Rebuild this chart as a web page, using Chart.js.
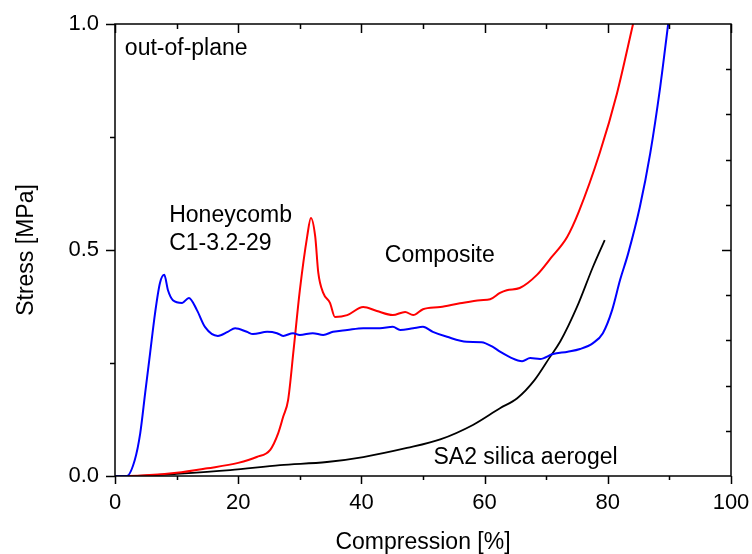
<!DOCTYPE html>
<html>
<head>
<meta charset="utf-8">
<script src="https://cdn.jsdelivr.net/npm/chart.js@4"></script>
<style>
  body { margin: 0; background: #fff; }
  #wrap { width: 752px; height: 554px; }
</style>
</head>
<body>
<div id="wrap"><canvas id="stress" width="752" height="554"></canvas></div>
<script>
// Honeycomb C1-3.2-29 (blue)
var honeyX = [0, 1.9, 3.2, 4.1, 4.9, 5.7, 6.5, 7.3, 8.0, 8.6, 9.4, 10.9, 12.0, 13.3, 14.6, 16.7, 18.3, 19.5, 21.4, 22.4, 24.7, 26.3, 27.3, 28.9, 30, 32.1, 33.8, 35.4, 37.7, 40.3, 43, 45.1, 46.3, 48.4, 50, 51.6, 53.9, 57.1, 59.5, 61.4, 62.5, 64.1, 66.1, 67.4, 69, 71.1, 73.5, 75.5, 77.6, 79.2, 80.7, 82, 83.3, 85.2, 86.9, 88.5, 89.8];
var honeyY = [0, 0, 0.035, 0.095, 0.184, 0.272, 0.36, 0.427, 0.445, 0.411, 0.389, 0.383, 0.394, 0.367, 0.33, 0.31, 0.319, 0.327, 0.319, 0.314, 0.319, 0.316, 0.31, 0.316, 0.312, 0.316, 0.312, 0.319, 0.323, 0.327, 0.327, 0.33, 0.323, 0.327, 0.33, 0.319, 0.308, 0.297, 0.296, 0.285, 0.275, 0.263, 0.254, 0.261, 0.259, 0.27, 0.275, 0.281, 0.294, 0.316, 0.367, 0.434, 0.492, 0.595, 0.715, 0.86, 1.0];

// Composite (red)
var compX = [0, 2.1, 10, 15, 20, 23, 25.2, 26.5, 27.3, 28.1, 29, 30, 31.2, 31.8, 32.5, 33, 33.8, 34.9, 35.7, 37.7, 40.3, 42.5, 45.1, 47.1, 48.4, 50, 52.8, 56, 59.3, 60.9, 62.5, 63.6, 65.7, 68.5, 70.8, 73.4, 75.3, 78.7, 81.5, 84.1];
var compY = [0, 0, 0.007, 0.017, 0.029, 0.042, 0.058, 0.095, 0.131, 0.168, 0.28, 0.41, 0.53, 0.571, 0.53, 0.45, 0.405, 0.383, 0.352, 0.356, 0.374, 0.365, 0.356, 0.363, 0.356, 0.369, 0.374, 0.382, 0.389, 0.391, 0.405, 0.411, 0.416, 0.445, 0.483, 0.529, 0.585, 0.715, 0.847, 1.0];

// SA2 silica aerogel (black)
var aeroX = [0, 2.5, 10, 18.7, 26.8, 34.4, 40.3, 47.4, 52.8, 58.1, 62.5, 65.3, 68.1, 70.6, 72.3, 75, 77.6, 79.5];
var aeroY = [0, 0, 0.005, 0.013, 0.024, 0.031, 0.042, 0.062, 0.081, 0.113, 0.15, 0.172, 0.212, 0.263, 0.298, 0.374, 0.463, 0.522];

var xTicks = [0, 20, 40, 60, 80, 100];
var yTicks = [0, 0.5, 1.0];

// text labels inside the plot, placed in data units
var notes = [
	{ text: 'out-of-plane', x: 1.6, y: 0.931 },
	{ text: 'Honeycomb', x: 8.8, y: 0.563 },
	{ text: 'C1-3.2-29', x: 8.8, y: 0.5 },
	{ text: 'Composite', x: 43.8, y: 0.474 },
	{ text: 'SA2 silica aerogel', x: 51.7, y: 0.0265 },
];

function toPoints(xs, ys) {
	var pts = [];
	for (var i = 0; i < xs.length; i++) {
		pts.push({ x: xs[i], y: ys[i] });
	}
	return pts;
}

var font = 'Arial, "Liberation Sans", sans-serif';

// axis frame, Origin-style ticks, and the text notes
var framePlugin = {
	id: 'frame',
	afterDraw: function (chart) {
		var ctx = chart.ctx;
		var a = chart.chartArea;
		var xs = chart.scales.x;
		var ys = chart.scales.y;
		ctx.save();
		ctx.strokeStyle = '#000';
		ctx.lineWidth = 1.5;
		ctx.strokeRect(a.left, a.top, a.right - a.left, a.bottom - a.top);
		ctx.beginPath();
		for (var v = 0; v <= 100; v += 10) {
			var px = Math.round(xs.getPixelForValue(v)) + 0.5;
			var major = v % 20 === 0;
			ctx.moveTo(px, a.bottom);
			ctx.lineTo(px, a.bottom + (major ? 8 : 4));
			ctx.moveTo(px, a.top);
			ctx.lineTo(px, a.top + (major ? 9 : 5));
		}
		for (var k = 0; k <= 4; k++) {
			var py = Math.round(ys.getPixelForValue(k * 0.25)) + 0.5;
			ctx.moveTo(a.left, py);
			ctx.lineTo(a.left - (k % 2 === 0 ? 9 : 5), py);
		}
		for (var j = 1; j < 10; j++) {
			var py2 = Math.round(ys.getPixelForValue(j / 10)) + 0.5;
			ctx.moveTo(a.right, py2);
			ctx.lineTo(a.right - (j === 5 ? 9 : 5), py2);
		}
		ctx.stroke();

		ctx.fillStyle = '#000';
		ctx.font = '23px ' + font;
		ctx.textAlign = 'left';
		ctx.textBaseline = 'alphabetic';
		notes.forEach(function (n) {
			ctx.fillText(n.text, xs.getPixelForValue(n.x), ys.getPixelForValue(n.y));
		});
		ctx.restore();
	},
};

var ctx0 = document.getElementById('stress').getContext('2d');

var chart0 = new Chart(ctx0, {
	type: 'scatter',
	data: {
		datasets: [
			{
				label: 'Honeycomb C1-3.2-29',
				data: toPoints(honeyX, honeyY),
				borderColor: '#0000ff',
			},
			{
				label: 'Composite',
				data: toPoints(compX, compY),
				borderColor: '#ff0000',
			},
			{
				label: 'SA2 silica aerogel',
				data: toPoints(aeroX, aeroY),
				borderColor: '#000000',
				borderWidth: 1.8,
			},
		],
	},
	options: {
		responsive: false,
		animation: false,
		showLine: true,
		layout: { padding: { top: 24, right: 21, left: 0, bottom: 0 } },
		elements: {
			point: { radius: 0 },
			line: { borderWidth: 2, tension: 0, cubicInterpolationMode: 'monotone', fill: false },
		},
		plugins: {
			legend: { display: false },
			tooltip: { enabled: false },
		},
		scales: {
			x: {
				type: 'linear',
				min: 0,
				max: 100,
				afterBuildTicks: function (s) {
					s.ticks = xTicks.map(function (v) { return { value: v }; });
				},
				afterFit: function (s) {
					s.height = 78;
					s.paddingLeft = 0;
					s.paddingRight = 0;
				},
				grid: { display: false, drawTicks: false },
				border: { display: false },
				ticks: { color: '#000', font: { size: 22, family: font }, padding: 14, maxRotation: 0 },
				title: {
					display: true,
					text: 'Compression [%]',
					color: '#000',
					font: { size: 23, family: font },
					padding: { top: 0, bottom: -2 },
				},
			},
			y: {
				type: 'linear',
				min: 0,
				max: 1,
				afterBuildTicks: function (s) {
					s.ticks = yTicks.map(function (v) { return { value: v }; });
				},
				afterFit: function (s) {
					s.width = 115;
					s.paddingTop = 0;
					s.paddingBottom = 0;
				},
				grid: { display: false, drawTicks: false },
				border: { display: false },
				ticks: {
					color: '#000',
					font: { size: 22, family: font },
					padding: 16,
					callback: function (v) { return v.toFixed(1); },
				},
				title: {
					display: true,
					text: 'Stress [MPa]',
					color: '#000',
					font: { size: 23, family: font },
					padding: { top: 13, bottom: 0 },
				},
			},
		},
	},
	plugins: [framePlugin],
});
</script>
</body>
</html>
